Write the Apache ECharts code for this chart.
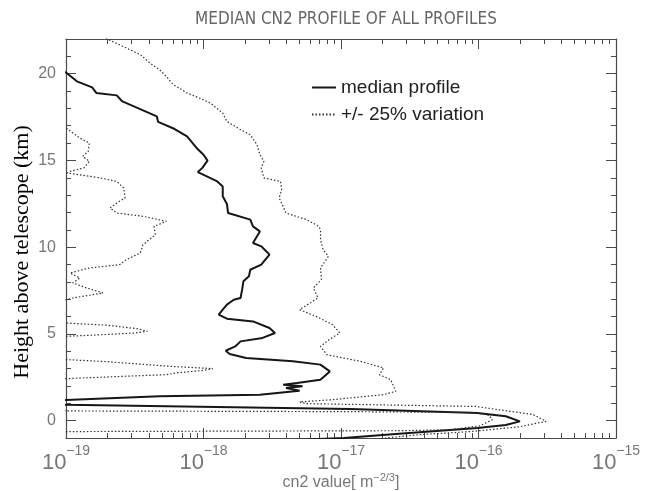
<!DOCTYPE html>
<html>
<head>
<meta charset="utf-8">
<script src="https://cdn.jsdelivr.net/npm/echarts@6/dist/echarts.min.js"></script>
<style>
html,body{margin:0;padding:0;background:#fff;}
#main{width:656px;height:491px;}
</style>
</head>
<body>
<div id="main"></div>
<script>
// heights in km, cn2 in m^-2/3 (points past the frame get clipped)
var medianHeight = [20.25, 20.07, 19.56, 19.21, 18.89, 18.75, 18.40, 18.17, 17.54, 17.22, 16.81, 16.39, 15.72, 15.33, 14.99, 14.57, 14.33, 13.79, 13.50, 12.93, 12.49, 11.97, 11.59, 11.20, 10.91, 10.24, 10.05, 9.57, 8.99, 8.70, 8.32, 8.03, 7.55, 7.07, 6.97, 6.69, 6.40, 6.11, 5.88, 5.72, 5.34, 5.05, 4.77, 4.57, 4.28, 4.03, 3.84, 3.61, 3.42, 3.23, 2.84, 2.36, 2.17, 2.07, 1.98, 1.88, 1.73, 1.50, 1.40, 1.19, 1.10, 0.98, 0.92, 0.67, 0.44, 0.25, -0.04, -0.25, -0.42, -0.77, -1.00, -1.10];
var medianCn2 = [7.9e-20, 1.0e-19, 1.2e-19, 1.55e-19, 1.66e-19, 2.34e-19, 2.57e-19, 3.0e-19, 4.57e-19, 4.68e-19, 6.17e-19, 7.59e-19, 8.9e-19, 1.0e-18, 1.07e-18, 9.8e-19, 9.1e-19, 1.26e-18, 1.38e-18, 1.38e-18, 1.48e-18, 1.51e-18, 2.19e-18, 2.29e-18, 2.57e-18, 2.29e-18, 2.63e-18, 3.02e-18, 2.63e-18, 2.19e-18, 2.14e-18, 1.95e-18, 1.91e-18, 1.86e-18, 1.66e-18, 1.48e-18, 1.38e-18, 1.29e-18, 1.48e-18, 2.29e-18, 3.02e-18, 3.31e-18, 2.69e-18, 1.86e-18, 1.70e-18, 1.45e-18, 1.55e-18, 2.04e-18, 4.47e-18, 7.08e-18, 8.3e-18, 7.08e-18, 4.79e-18, 3.8e-18, 5.25e-18, 3.98e-18, 5.0e-18, 2.57e-18, 4.79e-19, 1.0e-19, 5e-20, 5e-20, 1.0e-19, 1.17e-17, 9.8e-17, 1.58e-16, 2.0e-16, 1.58e-16, 9.8e-17, 2.5e-17, 1.05e-17, 5e-18];

var lowerHeight = [17.0, 16.87, 16.29, 16.0, 15.52, 15.23, 14.95, 14.57, 14.37, 14.28, 13.99, 13.79, 13.41, 12.84, 12.55, 12.26, 11.97, 11.78, 11.49, 11.2, 10.72, 10.14, 9.67, 9.28, 8.99, 8.80, 8.51, 8.22, 7.94, 7.65, 7.36, 7.07, 6.97, 6.9, 5.7, 5.63, 5.5, 5.3, 5.15, 5.05, 4.95, 4.86, 4.8, 3.6, 3.52, 3.40, 3.25, 3.13, 3.05, 3.0, 2.9, 2.75, 2.65, 2.55, 2.42, 2.35, 0.6, 0.56, 0.52, 0.47, 0.3, 0.05, -0.3, -0.52, -0.58, -0.63, -0.7];
var lowerCn2 = [6.3e-20, 1.0e-19, 1.26e-19, 1.48e-19, 1.45e-19, 1.32e-19, 1.48e-19, 1.35e-19, 1.07e-19, 1.02e-19, 1.78e-19, 2.34e-19, 2.63e-19, 2.69e-19, 2.34e-19, 2.09e-19, 2.34e-19, 3.63e-19, 5.37e-19, 4.37e-19, 4.47e-19, 3.63e-19, 3.47e-19, 2.75e-19, 2.45e-19, 1.48e-19, 1.07e-19, 1.26e-19, 1.12e-19, 1.41e-19, 1.86e-19, 1.12e-19, 1.0e-19, 5e-20, 5e-20, 1.0e-19, 2.0e-19, 3.3e-19, 3.9e-19, 3.16e-19, 1.78e-19, 1.0e-19, 5e-20, 5e-20, 1.0e-19, 2.0e-19, 3.55e-19, 5.75e-19, 8.9e-19, 1.17e-18, 1.0e-18, 6.3e-19, 5.4e-19, 2.5e-19, 1.0e-19, 5e-20, 5e-20, 1.0e-19, 1.17e-17, 9.5e-17, 1.2e-16, 1.26e-16, 1.02e-16, 6.2e-17, 2.7e-17, 1.0e-19, 5e-20];

var upperHeight = [22.3, 21.96, 21.48, 21.1, 20.62, 20.23, 19.84, 19.37, 18.89, 18.6, 18.31, 17.73, 17.25, 16.77, 16.48, 15.91, 15.33, 14.95, 14.57, 13.99, 13.79, 13.31, 12.84, 11.97, 11.59, 11.2, 11.0, 10.43, 9.86, 9.47, 8.80, 8.13, 7.65, 7.07, 6.40, 6.01, 5.53, 5.05, 4.7, 4.28, 3.80, 3.42, 3.04, 2.65, 2.36, 1.69, 1.50, 1.21, 1.08, 0.98, 0.82, 0.35, -0.04, -0.35, -0.63, -0.81, -1.0, -1.1];
var upperCn2 = [1.78e-19, 2.04e-19, 2.75e-19, 3.47e-19, 4.07e-19, 4.79e-19, 5.37e-19, 6.03e-19, 7.59e-19, 9.3e-19, 1.12e-18, 1.38e-18, 1.48e-18, 1.86e-18, 2.19e-18, 2.45e-18, 2.57e-18, 2.75e-18, 2.63e-18, 2.75e-18, 3.63e-18, 3.7e-18, 3.55e-18, 3.98e-18, 5.6e-18, 6.9e-18, 7.1e-18, 7.1e-18, 7.4e-18, 8.1e-18, 7.1e-18, 7.2e-18, 6.3e-18, 6.8e-18, 5.0e-18, 6.6e-18, 8.7e-18, 9.8e-18, 8.3e-18, 7.1e-18, 7.9e-18, 1.38e-17, 2.04e-17, 1.9e-17, 2.3e-17, 2.5e-17, 2.04e-17, 8.7e-18, 5.0e-18, 5.6e-18, 9.5e-17, 2.5e-16, 3.1e-16, 2.0e-16, 8.7e-17, 3.7e-17, 2.1e-17, 1.6e-17];

var xDecades = [-19, -18, -17, -16];
var yMajorTicks = [0, 5, 10, 15, 20];
var yMinorTicks = [-1, 1, 2, 3, 4, 6, 7, 8, 9, 11, 12, 13, 14, 16, 17, 18, 19, 21, 22];

var axisColor = '#4a4a4a';
var labelColor = '#777';

function pairs(cn2, h) {
  var out = [];
  for (var i = 0; i < h.length; i++) out.push([cn2[i], h[i]]);
  return out;
}

// 2..9 x each decade for the log minor ticks
var xMinorTicks = [];
xDecades.forEach(function (d) {
  for (var m = 2; m <= 9; m++) xMinorTicks.push(m * Math.pow(10, d));
});

function xAxisOf(pos, minor, labels) {
  return {
    type: 'log', logBase: 10, min: 1e-19, max: 1e-15, position: pos,
    axisLine: { show: !minor, onZero: false, lineStyle: { color: axisColor, width: 1.2 } },
    axisTick: minor ? { show: true, inside: true, length: 5, customValues: xMinorTicks, lineStyle: { color: axisColor } }
                    : { show: true, inside: true, length: 10, lineStyle: { color: axisColor } },
    splitLine: { show: false },
    axisLabel: labels ? {
      show: true, margin: 6,
      formatter: function (v) {
        var e = Math.round(Math.log(v) / Math.LN10);
        return '{b|10}{s|\u2212' + Math.abs(e) + '}';
      },
      rich: {
        b: { fontSize: 22, fontFamily: 'Liberation Sans', color: labelColor, verticalAlign: 'bottom', lineHeight: 30 },
        s: { fontSize: 14, fontFamily: 'Liberation Sans', color: labelColor, verticalAlign: 'top', lineHeight: 30 }
      }
    } : { show: false },
    name: labels ? 'cn2 value[ m{sup|\u22122/3}]' : '',
    nameLocation: 'middle', nameGap: 34, nameMoveOverlap: false,
    nameTextStyle: {
      fontSize: 16, fontFamily: 'Liberation Sans', color: labelColor,
      rich: { sup: { fontSize: 11, color: labelColor, verticalAlign: 'top', lineHeight: 22 } }
    }
  };
}

function yAxisOf(pos, minor, labels) {
  return {
    type: 'value', min: -1, max: 22, position: pos,
    axisLine: { show: !minor, onZero: false, lineStyle: { color: axisColor, width: 1.2 } },
    axisTick: { show: true, inside: true, length: minor ? 5 : 10, customValues: minor ? yMinorTicks : yMajorTicks, lineStyle: { color: axisColor } },
    splitLine: { show: false },
    axisLabel: labels ? { show: true, customValues: yMajorTicks, fontSize: 16, fontFamily: 'Liberation Sans', color: labelColor, margin: 10 } : { show: false }
  };
}

var option = {
  animation: false,
  backgroundColor: '#fff',
  title: {
    text: 'MEDIAN CN2 PROFILE OF ALL PROFILES',
    left: 341, top: 6, textAlign: 'center',
    textStyle: { fontSize: 17, fontWeight: 'normal', fontFamily: 'Liberation Sans Narrow, DejaVu Sans Condensed, Liberation Sans', color: '#666' }
  },
  legend: {
    orient: 'vertical', left: 311, top: 78, padding: 0,
    itemWidth: 24, itemHeight: 14, itemGap: 8, selectedMode: false,
    itemStyle: { opacity: 0 },
    textStyle: { fontSize: 19, fontFamily: 'Liberation Sans', color: '#222' },
    data: ['median profile', '+/- 25% variation']
  },
  grid: { left: 66, right: 40, top: 39, bottom: 53, outerBoundsMode: 'none' },
  graphic: [{
    type: 'text', x: 22, y: 252, rotation: Math.PI / 2,
    style: { text: 'Height above telescope (km)', fontSize: 22, fontFamily: 'Liberation Serif', fill: '#000', align: 'center', verticalAlign: 'middle' }
  }],
  xAxis: [xAxisOf('bottom', false, true), xAxisOf('bottom', true, false), xAxisOf('top', false, false), xAxisOf('top', true, false)],
  yAxis: [yAxisOf('left', false, true), yAxisOf('left', true, false), yAxisOf('right', false, false), yAxisOf('right', true, false)],
  series: [
    {
      name: 'median profile', type: 'line', symbol: 'none', showSymbol: false,
      data: pairs(medianCn2, medianHeight),
      lineStyle: { color: '#161616', width: 2 }, itemStyle: { color: '#161616' }
    },
    {
      name: '+/- 25% variation', type: 'line', symbol: 'none', showSymbol: false,
      data: pairs(upperCn2, upperHeight),
      lineStyle: { color: '#333', width: 1.2, type: [1.5, 2] }, itemStyle: { color: '#333' }
    },
    {
      name: '+/- 25% variation', type: 'line', symbol: 'none', showSymbol: false,
      data: pairs(lowerCn2, lowerHeight),
      lineStyle: { color: '#333', width: 1.2, type: [1.5, 2] }, itemStyle: { color: '#333' }
    }
  ]
};

var chart = echarts.init(document.getElementById('main'));
chart.setOption(option);
</script>
</body>
</html>
